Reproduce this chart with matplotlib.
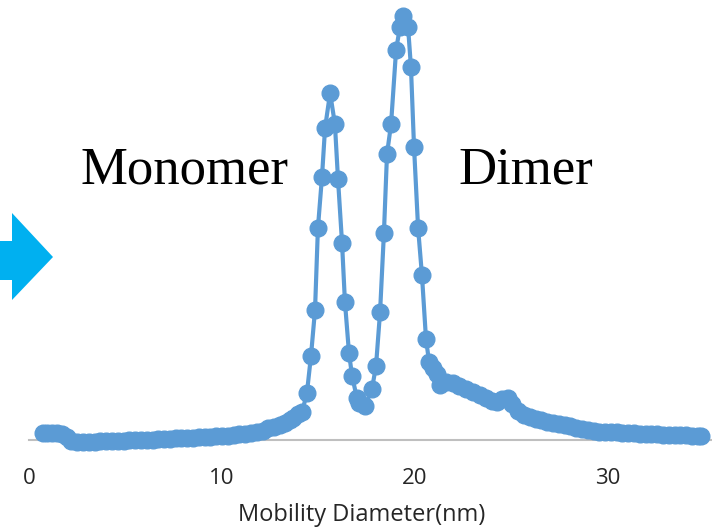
import matplotlib
matplotlib.use("Agg")
import matplotlib.pyplot as plt
from matplotlib.patches import Polygon

# Size distribution: mobility diameter (nm) vs. relative number concentration
diameter_nm = [
    0.7, 0.95, 1.2, 1.45, 1.7, 1.95, 2.2, 2.5, 2.8, 3.1, 3.4, 3.7, 4.0, 4.3,
    4.6, 4.9, 5.2, 5.5, 5.8, 6.1, 6.4, 6.7, 7.0, 7.3, 7.6, 7.9, 8.2, 8.5, 8.8,
    9.1, 9.4, 9.7, 10.0, 10.3, 10.6, 10.9, 11.2, 11.5, 11.8, 12.1, 12.4, 12.7,
    13.0, 13.25, 13.5, 13.7, 13.95, 14.15, 14.4, 14.61, 14.82, 14.97, 15.18,
    15.34, 15.6, 15.85, 16.01, 16.22, 16.37, 16.58, 16.74, 16.99, 17.1, 17.41,
    17.77, 17.98, 18.19, 18.39, 18.55, 18.76, 19.02, 19.22, 19.38, 19.64,
    19.79, 19.95, 20.16, 20.36, 20.57, 20.73, 20.93, 21.14, 21.3, 21.6, 21.95,
    22.3, 22.65, 23.0, 23.35, 23.7, 24.0, 24.25, 24.5, 24.8, 25.05, 25.35,
    25.65, 25.95, 26.25, 26.55, 26.85, 27.15, 27.45, 27.75, 28.05, 28.35,
    28.65, 28.95, 29.25, 29.55, 29.85, 30.15, 30.45, 30.75, 31.05, 31.35,
    31.65, 31.95, 32.25, 32.55, 32.85, 33.15, 33.45, 33.75, 34.05, 34.35,
    34.65, 34.8,
]
concentration = [
    7, 7, 7, 7, 6.5, 3, -1, -1.5, -1.5, -1.5, -1.5, -1.2, -1, -1,
    -0.8, -0.5, -0.3, 0, 0, 0.3, 0.5, 1, 1.2, 1.5, 1.8, 2, 2.2, 2.5, 2.8,
    3, 3.3, 3.6, 4, 4.4, 5, 5.6, 6.3, 7, 8, 9.5, 12, 13.5,
    15, 17.5, 20, 22, 26, 28, 47, 84, 130, 212, 263,
    312, 347, 316, 261, 197, 138, 87, 64, 42, 37, 34,
    51, 74, 128, 207, 286, 316, 390, 413, 424, 413,
    373, 293, 212, 165, 101, 78, 72, 66, 55, 58, 57,
    54, 51, 48, 45, 42, 39, 38, 41, 42, 36, 29,
    25, 23, 21, 20, 18, 17, 16, 15, 14, 12.5,
    11.5, 10.5, 9.5, 8.5, 8, 8, 7.8, 7.5, 7, 6.8,
    6.5, 6.2, 6, 5.8, 5.5, 5.2, 5, 4.8, 4.6, 4.3,
    4, 4,
]
xtick_values = [0, 10, 20, 30]
xtick_labels = ["0", "10", "20", "30"]
peak_labels = ["Monomer", "Dimer"]

W, H = 712, 532
fig = plt.figure(figsize=(W / 100, H / 100), dpi=100)
fig.patch.set_facecolor("white")

ax = fig.add_axes([29 / W, 92 / H, 683 / W, 440 / H])
ax.plot(diameter_nm, concentration, color="#5B9BD5", lw=3.0,
        marker="o", ms=12.0, mec="#5B9BD5", mfc="#5B9BD5",
        clip_on=False, zorder=3)
ax.set_xlim(0, 683 / 19.3)
ax.set_ylim(0, 440)

for side in ("left", "right", "top"):
    ax.spines[side].set_visible(False)
ax.spines["bottom"].set_color("#BFBFBF")
ax.spines["bottom"].set_linewidth(1.5)
ax.spines["bottom"].set_zorder(1)
ax.set_yticks([])
ax.set_xticks(xtick_values)
ax.set_xticklabels(xtick_labels, fontfamily="Open Sans", fontsize=16,
                   color="#262626")
ax.tick_params(axis="x", length=0, pad=20)

fig.text(362 / W, 1 - 515 / H, "Mobility Diameter(nm)", ha="center",
         va="center", fontfamily="Open Sans", fontsize=17, color="#262626")

fig.text(80 / W, 1 - 183 / H, peak_labels[0], ha="left", va="baseline",
         fontfamily="Liberation Serif", fontsize=38, color="black")
fig.text(458 / W, 1 - 183 / H, peak_labels[1], ha="left", va="baseline",
         fontfamily="Liberation Serif", fontsize=38, color="black")

# Block arrow at the left edge
arrow_px = [(0, 241), (12, 241), (12, 213), (53, 257), (12, 300),
            (12, 280), (0, 280)]
arrow = Polygon([(x / W, 1 - y / H) for x, y in arrow_px], closed=True,
                transform=fig.transFigure, facecolor="#00B0F0",
                edgecolor="none")
fig.add_artist(arrow)

fig.savefig("out.png", dpi=100, facecolor="white")
